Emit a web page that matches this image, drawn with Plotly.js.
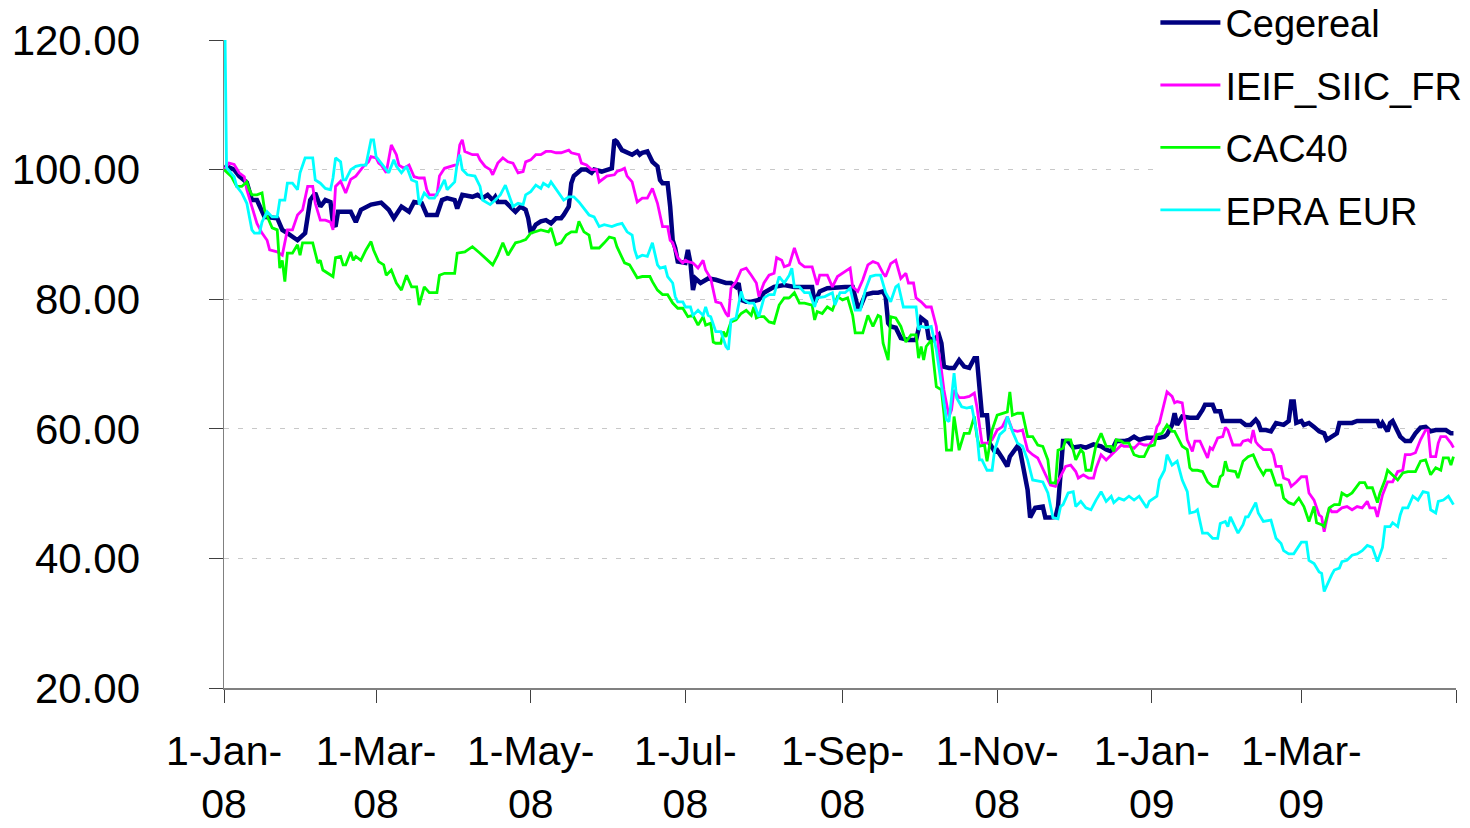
<!DOCTYPE html>
<html>
<head>
<meta charset="utf-8">
<script src="https://cdn.plot.ly/plotly-3.0.1.min.js"></script>
<style>html,body{margin:0;padding:0;background:#fff;}#chart{width:1470px;height:828px;}</style>
</head>
<body>
<div id="chart"></div>
<script>
// Series names
const seriesNames = ["Cegereal", "IEIF_SIIC_FR", "CAC40", "EPRA EUR"];

// x-axis tick positions and labels
const xTickVals = ["2008-01-01","2008-03-01","2008-05-01","2008-07-01","2008-09-01","2008-11-01","2009-01-01","2009-03-01","2009-05-01"];
const xTickText = ["1-Jan-<br>08","1-Mar-<br>08","1-May-<br>08","1-Jul-<br>08","1-Sep-<br>08","1-Nov-<br>08","1-Jan-<br>09","1-Mar-<br>09",""];
const yTickVals = [20, 40, 60, 80, 100, 120];

// [date, index value]
const cegereal = [["2008-01-01",100],["2008-01-02",100.5],["2008-01-05",100],["2008-01-07",99],["2008-01-10",98],["2008-01-12",95.3],["2008-01-14",95.3],["2008-01-17",92.7],["2008-01-22",92.5],["2008-01-24",90.7],["2008-01-26",90.2],["2008-01-30",89.1],["2008-02-02",90.2],["2008-02-04",95.3],["2008-02-06",96.4],["2008-02-08",94.3],["2008-02-10",95.3],["2008-02-12",95],["2008-02-13",91.7],["2008-02-14",91.2],["2008-02-15",93.5],["2008-02-18",93.5],["2008-02-20",93.5],["2008-02-22",91.9],["2008-02-24",93.8],["2008-02-28",94.6],["2008-03-03",94.9],["2008-03-06",93.8],["2008-03-08",92.5],["2008-03-11",94.3],["2008-03-14",93.5],["2008-03-16",95],["2008-03-19",94.8],["2008-03-21",93],["2008-03-25",93],["2008-03-27",95.3],["2008-03-29",95.6],["2008-04-01",95.3],["2008-04-02",94],["2008-04-04",96.1],["2008-04-08",95.8],["2008-04-10",96.1],["2008-04-12",95.6],["2008-04-14",96.1],["2008-04-16",95.3],["2008-04-17",95.8],["2008-04-18",95],["2008-04-21",95],["2008-04-23",94.3],["2008-04-25",93.5],["2008-04-27",94.3],["2008-04-29",93.8],["2008-04-30",92.5],["2008-05-01",90.2],["2008-05-03",91.5],["2008-05-05",92],["2008-05-07",92.2],["2008-05-09",91.7],["2008-05-11",92.5],["2008-05-13",92.5],["2008-05-14",93],["2008-05-16",94.3],["2008-05-17",97.9],["2008-05-18",99],["2008-05-21",100],["2008-05-23",100],["2008-05-25",99.5],["2008-05-26",100],["2008-05-29",99.7],["2008-05-31",100],["2008-06-02",100.2],["2008-06-03",104.6],["2008-06-04",104.3],["2008-06-06",103],["2008-06-07",102.8],["2008-06-10",102.3],["2008-06-12",102.8],["2008-06-13",102.3],["2008-06-14",102.6],["2008-06-16",102.8],["2008-06-18",101.2],["2008-06-20",100.5],["2008-06-21",98.4],["2008-06-22",97.9],["2008-06-24",97.9],["2008-06-25",94.3],["2008-06-26",89.1],["2008-06-27",87.9],["2008-06-28",85.8],["2008-07-01",85.6],["2008-07-02",87.6],["2008-07-03",85.6],["2008-07-04",81.4],["2008-07-05",83.2],["2008-07-07",82.5],["2008-07-10",83.2],["2008-07-13",83],["2008-07-15",82.7],["2008-07-17",82.5],["2008-07-19",82.5],["2008-07-21",81.9],["2008-07-22",82.5],["2008-07-23",79.9],["2008-07-25",79.6],["2008-07-27",79.6],["2008-07-30",79.9],["2008-08-01",81],["2008-08-05",81.9],["2008-08-09",82.2],["2008-08-13",81.9],["2008-08-17",81.9],["2008-08-20",81.9],["2008-08-21",79.4],["2008-08-23",81.2],["2008-08-26",81.7],["2008-08-30",81.9],["2008-09-02",81.9],["2008-09-05",81.9],["2008-09-07",78.8],["2008-09-08",78.8],["2008-09-10",80.7],["2008-09-13",81],["2008-09-15",81],["2008-09-17",81.2],["2008-09-18",80.4],["2008-09-19",76.3],["2008-09-20",75.8],["2008-09-22",75.6],["2008-09-24",74],["2008-09-27",73.7],["2008-09-30",73.7],["2008-10-02",77.1],["2008-10-04",76.5],["2008-10-05",74],["2008-10-07",73.7],["2008-10-09",74.5],["2008-10-10",73.2],["2008-10-11",69.6],["2008-10-13",69.4],["2008-10-15",69.4],["2008-10-17",70.6],["2008-10-19",69.6],["2008-10-21",69.4],["2008-10-23",70.9],["2008-10-24",70.9],["2008-10-25",66.5],["2008-10-26",62.1],["2008-10-28",62.1],["2008-10-29",57.8],["2008-10-31",56.5],["2008-11-01",56.7],["2008-11-03",55.5],["2008-11-05",54.2],["2008-11-06",55.7],["2008-11-07",56.3],["2008-11-09",57.3],["2008-11-10",56.7],["2008-11-11",54.7],["2008-11-13",50.6],["2008-11-14",46.3],["2008-11-16",47.8],["2008-11-19",48],["2008-11-20",46.3],["2008-11-22",46.3],["2008-11-24",46.4],["2008-11-25",48],["2008-11-26",53.6],["2008-11-27",58.1],["2008-11-29",58.1],["2008-12-01",57.1],["2008-12-04",57.3],["2008-12-06",57.1],["2008-12-09",57.6],["2008-12-12",57.3],["2008-12-14",56.8],["2008-12-16",56.5],["2008-12-18",58.1],["2008-12-21",58.1],["2008-12-23",58.3],["2008-12-25",58.8],["2008-12-27",58.3],["2008-12-30",58.6],["2009-01-01",58.6],["2009-01-04",58.6],["2009-01-06",58.8],["2009-01-07",59.1],["2009-01-09",60.6],["2009-01-10",62.4],["2009-01-11",60.6],["2009-01-13",61.9],["2009-01-16",61.7],["2009-01-19",61.7],["2009-01-21",62.9],["2009-01-22",63.7],["2009-01-25",63.7],["2009-01-26",62.7],["2009-01-28",62.7],["2009-01-29",61.2],["2009-02-01",61.2],["2009-02-05",61.2],["2009-02-07",60.6],["2009-02-09",60.6],["2009-02-11",61.4],["2009-02-12",60.9],["2009-02-13",59.8],["2009-02-15",59.8],["2009-02-17",59.6],["2009-02-18",60.3],["2009-02-19",60.9],["2009-02-22",60.6],["2009-02-24",61.2],["2009-02-25",64.2],["2009-02-26",64.2],["2009-02-27",60.9],["2009-03-01",61.2],["2009-03-02",60.6],["2009-03-04",60.9],["2009-03-06",60.3],["2009-03-08",59.6],["2009-03-10",59.3],["2009-03-11",58.3],["2009-03-13",58.8],["2009-03-15",59.3],["2009-03-16",60.9],["2009-03-19",60.9],["2009-03-21",60.9],["2009-03-23",61.2],["2009-03-26",61.2],["2009-03-29",61.2],["2009-03-31",61.2],["2009-04-01",60.2],["2009-04-02",60.9],["2009-04-04",59.6],["2009-04-05",60.9],["2009-04-06",61.2],["2009-04-08",59.8],["2009-04-09",58.8],["2009-04-11",58.1],["2009-04-13",58.1],["2009-04-15",59.3],["2009-04-17",60.2],["2009-04-19",60.3],["2009-04-21",59.6],["2009-04-23",59.8],["2009-04-25",59.8],["2009-04-27",59.8],["2009-04-29",59.3],["2009-04-30",59.3]];

const ieifSiicFr = [["2008-01-01",100],["2008-01-03",101],["2008-01-05",100.8],["2008-01-07",99.5],["2008-01-09",98.9],["2008-01-10",96.9],["2008-01-12",94.3],["2008-01-14",91.7],["2008-01-16",90.2],["2008-01-18",89.1],["2008-01-19",87.6],["2008-01-22",87.3],["2008-01-24",86.8],["2008-01-26",90.7],["2008-01-28",90.7],["2008-01-30",93],["2008-02-01",93.8],["2008-02-03",97.4],["2008-02-05",97.4],["2008-02-06",94.8],["2008-02-08",92.2],["2008-02-10",92.2],["2008-02-12",91.9],["2008-02-13",90.7],["2008-02-14",97.4],["2008-02-16",98.2],["2008-02-18",96.4],["2008-02-20",98.5],["2008-02-22",99],["2008-02-25",100.5],["2008-02-27",101.2],["2008-02-28",102],["2008-03-01",101.8],["2008-03-02",101],["2008-03-03",100.7],["2008-03-05",99.5],["2008-03-07",103.8],["2008-03-09",102.3],["2008-03-10",100.7],["2008-03-12",100.2],["2008-03-14",100.7],["2008-03-16",98.9],["2008-03-18",98.7],["2008-03-20",98.7],["2008-03-21",96.9],["2008-03-22",96.1],["2008-03-25",96.1],["2008-03-26",99],["2008-03-28",100.2],["2008-03-31",100.5],["2008-04-02",100.8],["2008-04-03",103.8],["2008-04-04",104.6],["2008-04-05",102.8],["2008-04-08",102.3],["2008-04-10",102.3],["2008-04-11",101.5],["2008-04-13",100.5],["2008-04-15",100],["2008-04-16",99.2],["2008-04-18",101],["2008-04-20",101.8],["2008-04-22",101.2],["2008-04-24",101],["2008-04-26",99.5],["2008-04-28",99.7],["2008-04-29",101.2],["2008-05-01",101.5],["2008-05-03",102.3],["2008-05-05",102.3],["2008-05-07",102.8],["2008-05-09",102.8],["2008-05-11",102.6],["2008-05-13",102.6],["2008-05-16",103],["2008-05-17",102.6],["2008-05-20",102.3],["2008-05-21",101],["2008-05-23",100.7],["2008-05-25",100],["2008-05-27",100],["2008-05-28",98.1],["2008-05-31",99],["2008-06-03",99.2],["2008-06-04",99.7],["2008-06-06",100],["2008-06-07",100.2],["2008-06-08",99],["2008-06-10",98.1],["2008-06-12",95],["2008-06-14",95.6],["2008-06-16",95.6],["2008-06-18",97.1],["2008-06-20",94.8],["2008-06-22",91.2],["2008-06-24",91.2],["2008-06-25",89.1],["2008-06-26",88.7],["2008-06-28",86.4],["2008-06-30",85.6],["2008-07-01",86],["2008-07-02",85.8],["2008-07-04",85.6],["2008-07-06",84.8],["2008-07-08",86],["2008-07-09",84.5],["2008-07-11",83.2],["2008-07-13",79.6],["2008-07-15",79.4],["2008-07-17",77.8],["2008-07-18",77.3],["2008-07-19",81.7],["2008-07-21",82.7],["2008-07-23",84.5],["2008-07-25",84.8],["2008-07-27",83.7],["2008-07-29",82.5],["2008-07-30",80.4],["2008-08-01",82.5],["2008-08-03",83.7],["2008-08-05",84],["2008-08-06",86.4],["2008-08-08",86],["2008-08-09",85],["2008-08-11",85.3],["2008-08-13",87.9],["2008-08-15",85.6],["2008-08-17",85],["2008-08-20",85],["2008-08-22",82.2],["2008-08-23",83.7],["2008-08-26",83.7],["2008-08-28",81.9],["2008-08-30",83.5],["2008-09-01",84],["2008-09-04",84.8],["2008-09-05",81.9],["2008-09-07",81.2],["2008-09-09",83],["2008-09-11",85.3],["2008-09-13",85.8],["2008-09-15",85.5],["2008-09-17",84],["2008-09-18",83.5],["2008-09-20",85.5],["2008-09-22",86],["2008-09-24",83.2],["2008-09-26",84],["2008-09-27",82.5],["2008-09-29",82.5],["2008-09-30",80.2],["2008-10-02",79.6],["2008-10-04",78.8],["2008-10-06",78.8],["2008-10-08",75.8],["2008-10-09",71.7],["2008-10-10",69.1],["2008-10-11",66],["2008-10-13",61.9],["2008-10-14",62.9],["2008-10-15",66],["2008-10-17",64.8],["2008-10-19",64.8],["2008-10-21",65],["2008-10-23",65.5],["2008-10-24",63.4],["2008-10-25",60.6],["2008-10-26",57.8],["2008-10-28",57.8],["2008-10-30",58.3],["2008-11-01",59.8],["2008-11-03",60.3],["2008-11-05",61.9],["2008-11-07",59.8],["2008-11-09",59.6],["2008-11-11",59.8],["2008-11-13",56.7],["2008-11-15",56],["2008-11-17",55.5],["2008-11-20",53.1],["2008-11-22",51.3],["2008-11-24",51.1],["2008-11-26",52.6],["2008-11-28",54.2],["2008-11-30",54.4],["2008-12-02",53.4],["2008-12-03",52.4],["2008-12-05",52.9],["2008-12-07",52.4],["2008-12-09",52.4],["2008-12-10",53.9],["2008-12-12",56],["2008-12-14",55.2],["2008-12-16",56],["2008-12-18",56.8],["2008-12-20",57.5],["2008-12-21",57.3],["2008-12-23",57.3],["2008-12-25",57],["2008-12-27",57.8],["2008-12-29",57.5],["2008-12-31",57.5],["2009-01-02",58.6],["2009-01-03",60.3],["2009-01-04",60.9],["2009-01-06",64.4],["2009-01-07",65.7],["2009-01-09",65],["2009-01-10",64],["2009-01-11",64.2],["2009-01-13",64],["2009-01-14",61.2],["2009-01-15",58.3],["2009-01-17",56.5],["2009-01-18",58.1],["2009-01-20",58.1],["2009-01-21",57.3],["2009-01-23",55.5],["2009-01-24",57.1],["2009-01-25",56.8],["2009-01-27",58.6],["2009-01-29",58.8],["2009-01-30",60.2],["2009-01-31",59.8],["2009-02-02",57.5],["2009-02-05",57.5],["2009-02-06",58.1],["2009-02-08",58.3],["2009-02-09",58],["2009-02-10",59.8],["2009-02-11",58],["2009-02-12",57.5],["2009-02-14",56.8],["2009-02-17",56.8],["2009-02-18",56],["2009-02-19",54.2],["2009-02-21",54.2],["2009-02-22",52.4],["2009-02-24",52.1],["2009-02-25",51.1],["2009-02-27",51.8],["2009-03-01",52.6],["2009-03-03",52.6],["2009-03-04",50.1],["2009-03-06",49],["2009-03-08",46.7],["2009-03-09",46.4],["2009-03-10",44.1],["2009-03-12",47.8],["2009-03-13",47.2],["2009-03-15",47.2],["2009-03-17",47.8],["2009-03-19",48],["2009-03-21",47.5],["2009-03-23",48],["2009-03-25",47.8],["2009-03-27",48.8],["2009-03-28",47.8],["2009-03-30",47.8],["2009-03-31",46.4],["2009-04-02",49.8],["2009-04-04",51.8],["2009-04-06",51.8],["2009-04-08",53.4],["2009-04-10",53.6],["2009-04-11",56],["2009-04-13",56],["2009-04-15",56.3],["2009-04-17",58.3],["2009-04-19",59.8],["2009-04-20",59.8],["2009-04-21",55.7],["2009-04-23",55.7],["2009-04-24",57.8],["2009-04-25",58.8],["2009-04-27",58.8],["2009-04-29",57.8],["2009-04-30",57.1]];

const cac40 = [["2008-01-01",100],["2008-01-04",98.9],["2008-01-06",97.4],["2008-01-08",97.4],["2008-01-10",98.1],["2008-01-11",96.9],["2008-01-12",96.1],["2008-01-14",96.1],["2008-01-16",96.4],["2008-01-17",93.8],["2008-01-19",91.9],["2008-01-20",91],["2008-01-22",90.7],["2008-01-23",84.8],["2008-01-24",86],["2008-01-25",82.7],["2008-01-26",87.1],["2008-01-28",87.1],["2008-01-30",88.4],["2008-01-31",86.8],["2008-02-01",88.7],["2008-02-05",88.7],["2008-02-07",85.6],["2008-02-08",86],["2008-02-09",84.5],["2008-02-12",83.7],["2008-02-13",83.5],["2008-02-14",86.4],["2008-02-16",86.6],["2008-02-17",85.3],["2008-02-18",85.3],["2008-02-20",87.3],["2008-02-21",86],["2008-02-22",86.6],["2008-02-24",86],["2008-02-26",87.6],["2008-02-28",88.9],["2008-02-29",87.6],["2008-03-02",85.8],["2008-03-04",85.3],["2008-03-05",83.7],["2008-03-07",84.5],["2008-03-09",82.5],["2008-03-11",81.4],["2008-03-13",83.7],["2008-03-15",81.9],["2008-03-17",81.9],["2008-03-18",79.1],["2008-03-20",81.9],["2008-03-22",81],["2008-03-25",81],["2008-03-26",83.7],["2008-03-28",84],["2008-04-01",84],["2008-04-02",87.1],["2008-04-05",87.3],["2008-04-08",88.1],["2008-04-11",87.1],["2008-04-14",86],["2008-04-16",85.3],["2008-04-18",86.8],["2008-04-20",88.7],["2008-04-22",86.8],["2008-04-25",88.7],["2008-04-27",88.9],["2008-04-29",89.2],["2008-05-01",90.2],["2008-05-03",90.4],["2008-05-05",90.7],["2008-05-08",90.4],["2008-05-09",91],["2008-05-11",88.4],["2008-05-13",88.7],["2008-05-15",89.9],["2008-05-17",90.4],["2008-05-19",90.4],["2008-05-20",92],["2008-05-22",90.4],["2008-05-24",89.9],["2008-05-25",87.9],["2008-05-28",87.9],["2008-05-30",88.7],["2008-06-01",89.6],["2008-06-03",89.4],["2008-06-04",88.1],["2008-06-07",85.6],["2008-06-09",85.3],["2008-06-12",83.3],["2008-06-14",83.5],["2008-06-17",83.5],["2008-06-18",82.7],["2008-06-20",81.4],["2008-06-22",80.7],["2008-06-24",80.7],["2008-06-26",79.4],["2008-06-28",78.6],["2008-06-30",78.6],["2008-07-02",77.3],["2008-07-04",77.5],["2008-07-06",76],["2008-07-08",77.3],["2008-07-09",76],["2008-07-11",76.3],["2008-07-12",73.4],["2008-07-13",73.2],["2008-07-15",73.2],["2008-07-16",75],["2008-07-17",74.2],["2008-07-19",76.5],["2008-07-21",76.8],["2008-07-23",77.8],["2008-07-25",78.3],["2008-07-27",77.5],["2008-07-28",78.8],["2008-07-29",77.1],["2008-07-30",77.3],["2008-08-01",77.3],["2008-08-03",76.5],["2008-08-05",76.3],["2008-08-07",79.1],["2008-08-09",80.2],["2008-08-11",80.2],["2008-08-13",81],["2008-08-15",79.4],["2008-08-17",79.4],["2008-08-20",79.1],["2008-08-21",76.8],["2008-08-22",78.1],["2008-08-24",77.8],["2008-08-26",78.8],["2008-08-28",78.3],["2008-08-30",80.4],["2008-09-01",79.9],["2008-09-03",80.2],["2008-09-05",77.5],["2008-09-06",74.8],["2008-09-09",74.8],["2008-09-11",77.5],["2008-09-13",75.8],["2008-09-15",77.5],["2008-09-16",77.3],["2008-09-17",73.2],["2008-09-19",70.6],["2008-09-20",77.3],["2008-09-22",77.1],["2008-09-24",75.8],["2008-09-26",73.4],["2008-09-28",74.5],["2008-09-30",74.5],["2008-10-01",70.9],["2008-10-02",72.7],["2008-10-03",70.6],["2008-10-04",72.7],["2008-10-06",73.7],["2008-10-08",66.5],["2008-10-10",66],["2008-10-11",62.4],["2008-10-12",56.7],["2008-10-14",56.7],["2008-10-15",61.9],["2008-10-17",56.7],["2008-10-19",59.3],["2008-10-21",59.3],["2008-10-23",61.9],["2008-10-24",58.8],["2008-10-25",57.3],["2008-10-27",57.5],["2008-10-28",55],["2008-10-30",59.8],["2008-11-01",62.1],["2008-11-03",62.4],["2008-11-05",62.6],["2008-11-06",65.7],["2008-11-07",62.1],["2008-11-09",62.4],["2008-11-11",62.4],["2008-11-13",58.8],["2008-11-15",58.8],["2008-11-17",57.5],["2008-11-19",57.3],["2008-11-21",55.2],["2008-11-22",51.7],["2008-11-24",51.6],["2008-11-25",56.7],["2008-11-27",57],["2008-11-28",58.3],["2008-11-30",58.3],["2008-12-02",55.2],["2008-12-04",56.8],["2008-12-05",56.3],["2008-12-06",53.6],["2008-12-08",53.6],["2008-12-10",57.5],["2008-12-12",59.3],["2008-12-14",57.3],["2008-12-16",57.3],["2008-12-17",56.5],["2008-12-18",58.3],["2008-12-20",58.1],["2008-12-21",57.8],["2008-12-23",57.8],["2008-12-25",56],["2008-12-27",55.7],["2008-12-29",55.7],["2008-12-31",57.3],["2009-01-02",57.5],["2009-01-03",59.1],["2009-01-05",59.3],["2009-01-07",60.6],["2009-01-09",59.6],["2009-01-10",59.6],["2009-01-11",58.8],["2009-01-13",57.3],["2009-01-15",56.8],["2009-01-16",54],["2009-01-17",53.6],["2009-01-19",53.6],["2009-01-21",53.4],["2009-01-23",51.8],["2009-01-25",51.1],["2009-01-27",51.1],["2009-01-28",52.6],["2009-01-29",52.9],["2009-01-30",55],["2009-01-31",53.6],["2009-02-03",53.4],["2009-02-04",52.4],["2009-02-06",55],["2009-02-08",55.7],["2009-02-10",56],["2009-02-12",54.2],["2009-02-14",52.9],["2009-02-15",53.6],["2009-02-17",53.6],["2009-02-19",51.3],["2009-02-21",51.3],["2009-02-22",49.3],["2009-02-24",48.6],["2009-02-26",48.3],["2009-02-28",49.3],["2009-03-02",48],["2009-03-04",45.7],["2009-03-06",48],["2009-03-07",45.5],["2009-03-09",45.2],["2009-03-10",44.9],["2009-03-12",47.8],["2009-03-14",48.3],["2009-03-16",48.3],["2009-03-17",50.1],["2009-03-19",49.6],["2009-03-21",50.1],["2009-03-24",51.7],["2009-03-26",51.7],["2009-03-27",50.9],["2009-03-29",50.9],["2009-03-31",48.6],["2009-04-01",50.1],["2009-04-03",52.1],["2009-04-04",53.6],["2009-04-06",52.9],["2009-04-08",52.1],["2009-04-10",53.2],["2009-04-12",53.4],["2009-04-15",53.4],["2009-04-17",55],["2009-04-19",55.2],["2009-04-21",52.9],["2009-04-23",54],["2009-04-25",53.6],["2009-04-26",55.5],["2009-04-28",55.5],["2009-04-29",54.4],["2009-04-30",55.7]];

const epraEur = [["2008-01-01",135],["2008-01-02",100.3],["2008-01-05",98.9],["2008-01-06",97.4],["2008-01-08",96.4],["2008-01-10",94.8],["2008-01-12",90.7],["2008-01-13",90.2],["2008-01-15",90.2],["2008-01-16",91.9],["2008-01-17",92.7],["2008-01-18",93.5],["2008-01-20",92.7],["2008-01-22",92.7],["2008-01-23",95.3],["2008-01-25",95.3],["2008-01-26",97.9],["2008-01-28",97.9],["2008-01-30",96.9],["2008-01-31",99.5],["2008-02-02",101.8],["2008-02-05",101.8],["2008-02-06",98.4],["2008-02-08",97.9],["2008-02-10",97.1],["2008-02-12",96.9],["2008-02-13",98.7],["2008-02-14",101.8],["2008-02-16",101.2],["2008-02-17",98.4],["2008-02-18",98.4],["2008-02-20",100],["2008-02-22",100.5],["2008-02-24",100.7],["2008-02-26",100.7],["2008-02-28",104.6],["2008-02-29",104.6],["2008-03-01",102],["2008-03-02",101.5],["2008-03-04",100.5],["2008-03-06",99.5],["2008-03-08",101.5],["2008-03-09",100.5],["2008-03-11",99.5],["2008-03-13",100.5],["2008-03-15",98.4],["2008-03-17",98.1],["2008-03-18",94.6],["2008-03-20",96.4],["2008-03-22",95.6],["2008-03-24",95.6],["2008-03-26",96.9],["2008-03-28",98.4],["2008-03-29",96.9],["2008-04-01",98.1],["2008-04-02",101],["2008-04-03",102.3],["2008-04-04",100],["2008-04-06",99.2],["2008-04-09",99],["2008-04-11",97.4],["2008-04-12",95.3],["2008-04-15",94.6],["2008-04-17",95.3],["2008-04-19",96.1],["2008-04-21",97.6],["2008-04-23",95.3],["2008-04-24",94.3],["2008-04-26",94.8],["2008-04-28",94.6],["2008-04-29",96.1],["2008-05-01",96.6],["2008-05-03",97.6],["2008-05-05",97.1],["2008-05-06",97.9],["2008-05-08",97.4],["2008-05-09",98.1],["2008-05-11",96.9],["2008-05-13",95.8],["2008-05-14",95.3],["2008-05-16",95.8],["2008-05-18",95.8],["2008-05-20",95],["2008-05-22",94],["2008-05-24",93],["2008-05-26",92.7],["2008-05-28",91.2],["2008-05-30",91.5],["2008-06-02",91.2],["2008-06-04",91.5],["2008-06-06",91.7],["2008-06-08",90.4],["2008-06-10",89.9],["2008-06-11",87.6],["2008-06-12",86.4],["2008-06-14",86.8],["2008-06-16",86.6],["2008-06-18",88.7],["2008-06-20",85.3],["2008-06-21",84.8],["2008-06-23",85],["2008-06-24",83.5],["2008-06-26",82.5],["2008-06-27",80.4],["2008-06-28",79.6],["2008-06-30",79.6],["2008-07-01",78.8],["2008-07-03",78.8],["2008-07-04",77.5],["2008-07-06",78.3],["2008-07-08",77.5],["2008-07-09",78.8],["2008-07-10",77.5],["2008-07-11",77.3],["2008-07-13",75],["2008-07-15",75],["2008-07-17",72.7],["2008-07-18",72.2],["2008-07-19",76.8],["2008-07-21",77.1],["2008-07-23",81.2],["2008-07-24",79.9],["2008-07-26",79.4],["2008-07-28",79.4],["2008-07-30",77.3],["2008-08-01",80.2],["2008-08-03",80.7],["2008-08-05",80.7],["2008-08-07",83.5],["2008-08-09",82.5],["2008-08-11",83.7],["2008-08-12",84.8],["2008-08-13",81.9],["2008-08-15",81.9],["2008-08-17",81],["2008-08-19",81],["2008-08-21",78.8],["2008-08-22",80.2],["2008-08-25",80.4],["2008-08-28",81],["2008-08-29",79.1],["2008-08-31",81],["2008-09-02",81],["2008-09-04",81.7],["2008-09-06",78.3],["2008-09-08",78.3],["2008-09-10",81.4],["2008-09-12",83.5],["2008-09-14",83.7],["2008-09-16",83.7],["2008-09-18",81],["2008-09-20",79.6],["2008-09-22",81.9],["2008-09-23",82.2],["2008-09-25",78.8],["2008-09-27",78.8],["2008-09-30",78.8],["2008-10-01",75.3],["2008-10-02",75.8],["2008-10-04",75.6],["2008-10-06",75.8],["2008-10-08",72.2],["2008-10-09",69.6],["2008-10-11",64.4],["2008-10-12",61.4],["2008-10-13",61.1],["2008-10-14",64.4],["2008-10-15",68.6],["2008-10-16",64.8],["2008-10-18",63.4],["2008-10-20",63.2],["2008-10-22",63.4],["2008-10-24",59.3],["2008-10-25",55.2],["2008-10-26",55.2],["2008-10-28",53.6],["2008-10-30",53.6],["2008-10-31",56.7],["2008-11-02",59.1],["2008-11-04",59.8],["2008-11-05",61.9],["2008-11-07",59.6],["2008-11-09",57.8],["2008-11-11",57.3],["2008-11-13",55.2],["2008-11-15",52.1],["2008-11-19",51.8],["2008-11-21",50.1],["2008-11-23",46.3],["2008-11-25",46.1],["2008-11-26",48],["2008-11-27",48.3],["2008-11-29",50.1],["2008-12-01",50.3],["2008-12-02",48],["2008-12-04",48.8],["2008-12-06",47.8],["2008-12-08",47.5],["2008-12-10",49],["2008-12-12",50.3],["2008-12-14",48.8],["2008-12-16",49.6],["2008-12-17",48.6],["2008-12-19",49.3],["2008-12-21",49],["2008-12-23",49.6],["2008-12-25",49],["2008-12-27",49.6],["2008-12-30",47.8],["2008-12-31",48.8],["2009-01-03",49.6],["2009-01-04",52.1],["2009-01-06",53.6],["2009-01-07",56],["2009-01-09",54.4],["2009-01-11",55],["2009-01-13",52.1],["2009-01-15",50.3],["2009-01-16",47],["2009-01-18",47.2],["2009-01-19",47.5],["2009-01-21",43.9],["2009-01-23",43.9],["2009-01-25",43.1],["2009-01-27",43.1],["2009-01-28",45.4],["2009-01-30",45.7],["2009-01-31",44.9],["2009-02-01",46.4],["2009-02-04",43.9],["2009-02-06",45.2],["2009-02-07",46.4],["2009-02-08",46.4],["2009-02-11",48.6],["2009-02-12",47],["2009-02-14",45.7],["2009-02-17",45.9],["2009-02-19",43.1],["2009-02-21",42.3],["2009-02-22",41.2],["2009-02-24",40.7],["2009-02-26",40.7],["2009-03-01",42.5],["2009-03-03",42.5],["2009-03-04",39.7],["2009-03-06",39.2],["2009-03-08",37.9],["2009-03-09",37.7],["2009-03-10",34.9],["2009-03-12",36.7],["2009-03-13",37.5],["2009-03-14",38.2],["2009-03-16",38.5],["2009-03-17",39.5],["2009-03-19",39.7],["2009-03-21",40.5],["2009-03-23",40.7],["2009-03-25",41.2],["2009-03-27",42],["2009-03-29",41.7],["2009-03-31",39.5],["2009-04-02",41.7],["2009-04-03",44.9],["2009-04-05",44.9],["2009-04-06",45.5],["2009-04-08",44.9],["2009-04-09",46.7],["2009-04-10",47.8],["2009-04-12",47.8],["2009-04-14",49.6],["2009-04-16",49],["2009-04-18",50.3],["2009-04-20",50.1],["2009-04-21",47.5],["2009-04-23",47],["2009-04-24",48.8],["2009-04-26",49],["2009-04-28",49.6],["2009-04-29",49],["2009-04-30",48.3]];

const seriesData = [cegereal, ieifSiicFr, cac40, epraEur];
const seriesColors = ["#000080", "#FF00FF", "#00FF00", "#00FFFF"];
const seriesWidths = [4.5, 2.8, 2.8, 2.8];

const traces = seriesData.map(function (s, i) {
  return {
    type: "scatter",
    mode: "lines",
    name: seriesNames[i],
    legendgroup: "g" + i,
    x: s.map(function (p) { return p[0]; }),
    y: s.map(function (p) { return p[1]; }),
    line: { color: seriesColors[i], width: seriesWidths[i] },
    hoverinfo: "skip"
  };
});

const FONT = "'Liberation Sans', Arial, Helvetica, sans-serif";

const layout = {
  width: 1470,
  height: 828,
  margin: { l: 224, r: 14, t: 40, b: 140, pad: 0, autoexpand: false },
  paper_bgcolor: "#ffffff",
  plot_bgcolor: "#ffffff",
  font: { family: FONT, color: "#000000" },
  showlegend: true,
  xaxis: {
    type: "date",
    range: ["2008-01-01", "2009-05-01"],
    tickmode: "array",
    tickvals: xTickVals,
    ticktext: xTickText,
    ticks: "outside",
    ticklen: 13,
    tickwidth: 1,
    tickcolor: "#404040",
    showline: true,
    linecolor: "#808080",
    linewidth: 1.5,
    showgrid: false,
    zeroline: false,
    tickangle: 0,
    automargin: false,
    tickfont: { family: FONT, size: 41, color: "#000000" },
    ticklabelstandoff: 13
  },
  yaxis: {
    range: [20, 120],
    tickmode: "array",
    tickvals: yTickVals,
    tickformat: ".2f",
    ticks: "outside",
    ticklen: 14,
    tickwidth: 1,
    tickcolor: "#404040",
    showline: true,
    linecolor: "#808080",
    linewidth: 1.5,
    showgrid: true,
    gridcolor: "#c8c8c8",
    gridwidth: 1,
    griddash: "5px,9px",
    zeroline: false,
    automargin: false,
    tickfont: { family: FONT, size: 42, color: "#000000" },
    ticklabelstandoff: 60
  },
  legend: {
    x: 0.756,
    xanchor: "left",
    y: 1.075,
    yanchor: "top",
    bgcolor: "#ffffff",
    borderwidth: 0,
    font: { family: FONT, size: 38, color: "#000000" },
    tracegroupgap: 10,
    itemwidth: 60,
    traceorder: "grouped"
  }
};

Plotly.newPlot("chart", traces, layout, { staticPlot: true, displayModeBar: false });
</script>
</body>
</html>
